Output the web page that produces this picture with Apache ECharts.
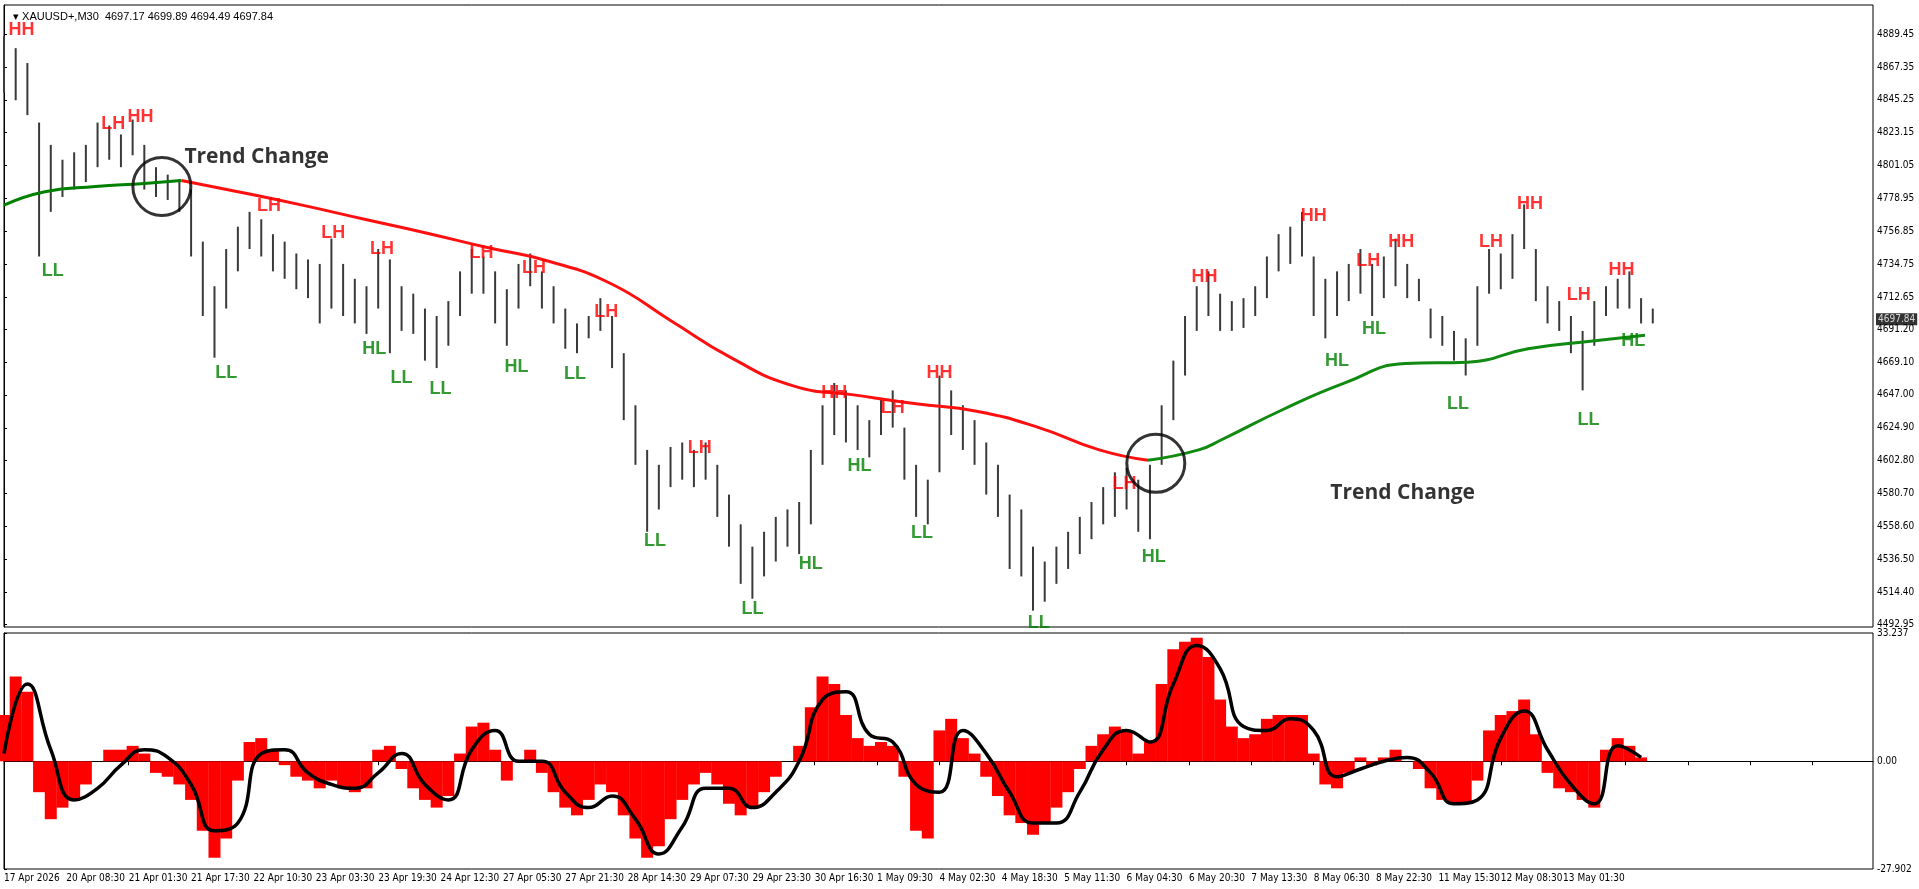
<!DOCTYPE html>
<html>
<head>
<meta charset="utf-8">
<script src="https://cdn.jsdelivr.net/npm/echarts@6/dist/echarts.min.js"></script>
<style>
html, body { margin: 0; padding: 0; background: #fff; }
#chart { width: 1919px; height: 889px; }
</style>
</head>
<body>
<div id="chart"></div>
<script>
// bars are sampled every 6 M30 bars, x unit = bar index (32 bars per time label)
var step = 6;
var highs = [4888,4880,4870,4830,4815,4805,4810,4815,4830,4828,4822,4832,4815,4800,4795,4792,4785,4750,4720,4745,
    4760,4770,4765,4755,4750,4742,4738,4735,4752,4735,4725,4720,4745,4738,4720,4715,4705,4700,4710,4730,
    4745,4740,4730,4718,4735,4742,4730,4720,4705,4695,4700,4712,4700,4675,4640,4610,4600,4612,4615,4610,
    4615,4600,4580,4560,4545,4555,4565,4570,4575,4610,4640,4655,4650,4640,4630,4645,4650,4625,4600,4590,
    4660,4650,4640,4630,4615,4600,4580,4570,4545,4535,4545,4555,4565,4575,4585,4595,4598,4590,4600,4640,
    4670,4700,4720,4730,4715,4710,4712,4720,4740,4755,4760,4770,4740,4725,4730,4735,4745,4735,4740,4752,
    4735,4725,4705,4700,4690,4685,4720,4745,4742,4755,4775,4745,4720,4710,4700,4690,4710,4720,4725,4730,
    4712,4705];
var lows = [4850,4845,4835,4740,4770,4780,4785,4790,4800,4805,4800,4808,4785,4780,4778,4770,4740,4700,4672,4705,
    4730,4745,4740,4730,4725,4718,4712,4695,4705,4700,4695,4688,4705,4675,4690,4688,4670,4665,4680,4700,
    4715,4715,4695,4680,4705,4720,4705,4695,4678,4675,4685,4690,4665,4630,4600,4555,4570,4585,4590,4585,
    4590,4565,4545,4520,4510,4525,4535,4545,4540,4560,4600,4620,4615,4610,4605,4620,4625,4590,4565,4560,
    4595,4620,4610,4600,4580,4565,4530,4525,4502,4508,4520,4530,4540,4550,4560,4565,4570,4555,4550,4600,
    4630,4660,4690,4700,4690,4690,4692,4700,4712,4730,4735,4740,4700,4685,4700,4710,4715,4700,4712,4720,
    4712,4710,4685,4680,4670,4660,4680,4715,4718,4725,4745,4710,4695,4690,4675,4650,4680,4700,4705,4705,
    4695,4695];

// moving average [bar index, price]
var maGreenA = [[0,4774.5],[21,4783.5],[47,4787],[72,4789],[91,4791]];
var maRed = [[91,4791],[122,4783],[153,4774.5],[185,4765],[216,4756],[248,4746],[279,4737],[311,4722],
    [342,4697],[373,4672],[405,4653],[436,4647],[468,4641],[499,4636],[531,4625],[562,4610],[587,4603]];
var maGreenB = [[587,4603],[613,4610],[625,4617],[656,4637],[688,4655],[719,4668],[751,4669],[782,4678],
    [814,4683],[842,4687]];

var swingX = [9,56,70,25,136,114,169,194,190,204,224,245,263,272,293,309,334,357,384,414,426,439,456,471,480,
    531,575,590,616,672,684,700,703,717,746,763,783,808,813,830,836];
var swingP = [4892,4829,4834,4730,4774,4662,4756,4745,4678,4658,4651,4742,4666,4732,4661,4703,4549,4611,4503,
    4533,4648,4599,4638,4554,4662,4494,4587,4538,4726,4767,4670,4737,4691,4750,4641,4750,4775,4714,4630,4731,4683];
var swingT = ['HH','LH','HH','LL','LH','LL','LH','LH','HL','LL','LL','LH','HL','LH','LL','LH','LL','LH','LL',
    'HL','HH','HL','LH','LL','HH','LL','LH','HL','HH','HH','HL','LH','HL','HH','LL','LH','HH','LH','LL','HH','HL'];

var histo = [12,22,18,-8,-15,-12,-10,-6,0,3,3,4,2,-3,-4,-6,-10,-18,-25,-20,
    -5,5,6,3,-1,-4,-5,-7,-5,-7,-8,-7,3,4,-2,-7,-10,-12,-9,2,
    9,10,3,-5,0,3,-3,-8,-12,-14,-10,-6,-8,-14,-20,-25,-22,-15,-10,-6,
    -3,-6,-11,-14,-12,-8,-4,0,4,14,22,20,12,6,4,5,4,-4,-18,-20,
    8,11,6,2,-4,-9,-14,-16,-19,-16,-12,-8,-2,4,7,9,8,2,5,20,
    29,31,32,27,16,9,6,7,11,12,12,12,2,-6,-7,-3,1,-1,1,3,
    0,-2,-7,-10,-11,-11,-5,8,12,13,16,7,-3,-7,-8,-10,-12,3,6,4,
    1,0];
var signal = [2,20,3,-10,-7,-1,3,1,-6,-18,-16,2,3,-3,-6,-7,-3,2,-6,-10,
    3,8,0,0,-8,-12,-9,-15,-24,-17,-7,-7,-12,-8,0,16,18,7,5,-6,
    -8,8,2,-8,-16,-16,-8,3,8,5,20,30,24,9,8,11,8,-4,-2,0,
    1,-3,-11,-10,6,13,3,-6,-11,4,1];

var timeLabels = ['17 Apr 2026','20 Apr 08:30','21 Apr 01:30','21 Apr 17:30','22 Apr 10:30','23 Apr 03:30',
    '23 Apr 19:30','24 Apr 12:30','27 Apr 05:30','27 Apr 21:30','28 Apr 14:30','29 Apr 07:30','29 Apr 23:30',
    '30 Apr 16:30','1 May 09:30','4 May 02:30','4 May 18:30','5 May 11:30','6 May 04:30','6 May 20:30',
    '7 May 13:30','8 May 06:30','8 May 22:30','11 May 15:30','12 May 08:30','13 May 01:30'];
var priceTicks = [4492.95,4514.40,4536.50,4558.60,4580.70,4602.80,4624.90,4647.00,4669.10,4691.20,4712.65,
    4734.75,4756.85,4778.95,4801.05,4823.15,4845.25,4867.35,4889.45];
var oscTicks = [-27.902, 0, 33.237];
var lastPrice = 4697.84;

var barData = [];
for (var i = 0; i < highs.length; i++) barData.push([i * step, highs[i], lows[i]]);
var histData = histo.map(function (v, i) { return [i * step, v]; });
var sigData = signal.map(function (v, i) { return [i * step * 2, v]; });
var swingData = swingX.map(function (x, i) {
    var isHigh = swingT[i].charAt(1) === 'H';
    return { value: [x, swingP[i], swingT[i]], label: { color: isHigh ? '#ff0000' : '#008000' } };
});

var font = 'DejaVu Sans Condensed, Liberation Sans';
var axisFont = { color: '#000', fontSize: 10, fontFamily: font };

var chart = echarts.init(document.getElementById('chart'));
var option = {
    animation: false,
    backgroundColor: '#fff',
    title: {
        text: '▾ XAUUSD+,M30  4697.17 4699.89 4694.49 4697.84',
        left: 8, top: 6,
        textStyle: { fontSize: 11, fontWeight: 'normal', color: '#000', fontFamily: 'Liberation Sans' }
    },
    grid: [
        { left: 4, right: 46, top: 5, height: 622, show: true, borderColor: '#000', borderWidth: 1 },
        { left: 4, right: 46, top: 633, bottom: 20, show: true, borderColor: '#000', borderWidth: 1 }
    ],
    xAxis: [
        { type: 'value', gridIndex: 0, min: 0, max: 959, interval: 32,
          axisLabel: { show: false }, axisTick: { show: false }, axisLine: { show: false }, splitLine: { show: false } },
        { type: 'value', gridIndex: 1, min: 0, max: 959, interval: 32, position: 'bottom',
          axisLine: { show: true, lineStyle: { color: '#000' } },
          axisTick: { show: true, length: 4, lineStyle: { color: '#000' } },
          splitLine: { show: false },
          axisLabel: Object.assign({ align: 'left', margin: 4, showMaxLabel: false, hideOverlap: false,
              formatter: function (v) { return timeLabels[Math.round(v / 32)] || ''; } }, axisFont) }
    ],
    yAxis: [
        { type: 'value', gridIndex: 0, position: 'right', min: 4491, max: 4909, splitLine: { show: false },
          axisLine: { show: true, lineStyle: { color: '#000' } },
          axisTick: { show: true, length: 3, inside: false, customValues: priceTicks, lineStyle: { color: '#000' } },
          axisLabel: Object.assign({ margin: 4, customValues: priceTicks,
              formatter: function (v) { return v.toFixed(2); } }, axisFont) },
        { type: 'value', gridIndex: 1, position: 'right', min: -27.902, max: 33.237, splitLine: { show: false },
          axisLine: { show: true, lineStyle: { color: '#000' } },
          axisTick: { show: true, length: 3, customValues: oscTicks, lineStyle: { color: '#000' } },
          axisLabel: Object.assign({ margin: 4, customValues: oscTicks,
              formatter: function (v) { return v === 0 ? '0.00' : String(v); } }, axisFont) }
    ],
    series: [
        {
            type: 'custom', xAxisIndex: 0, yAxisIndex: 0, data: barData, z: 2,
            renderItem: function (params, api) {
                var top = api.coord([api.value(0), api.value(1)]);
                var bot = api.coord([api.value(0), api.value(2)]);
                return { type: 'line', shape: { x1: top[0], y1: top[1], x2: bot[0], y2: bot[1] },
                    style: { stroke: '#3a3a3a', lineWidth: 2 } };
            }
        },
        { type: 'line', xAxisIndex: 0, yAxisIndex: 0, data: maGreenA, smooth: true, symbol: 'none',
          lineStyle: { color: '#008000', width: 3 }, z: 3 },
        { type: 'line', xAxisIndex: 0, yAxisIndex: 0, data: maRed, smooth: true, symbol: 'none',
          lineStyle: { color: '#ff1010', width: 3 }, z: 3 },
        { type: 'line', xAxisIndex: 0, yAxisIndex: 0, data: maGreenB, smooth: true, symbol: 'none',
          lineStyle: { color: '#108a10', width: 3 }, z: 3 },
        {
            type: 'scatter', xAxisIndex: 0, yAxisIndex: 0, data: swingData, symbolSize: 0, z: 5,
            label: { show: true, position: 'inside', fontSize: 18, fontWeight: 'bold', fontFamily: 'Liberation Sans',
                formatter: function (p) { return p.value[2]; } },
            itemStyle: { color: 'transparent' }
        },
        {
            type: 'scatter', xAxisIndex: 0, yAxisIndex: 0, z: 6, symbol: 'circle', symbolSize: 58,
            itemStyle: { color: 'rgba(0,0,0,0)', borderColor: '#000', borderWidth: 3 },
            data: [[81, 4787], [591, 4601]]
        },
        {
            type: 'scatter', xAxisIndex: 0, yAxisIndex: 0, z: 6, symbolSize: 0,
            label: { show: true, position: 'right', formatter: function (p) { return p.value[2]; },
                fontSize: 21, fontWeight: 'bold', color: '#000', fontFamily: 'Open Sans' },
            data: [[90, 4807, 'Trend Change'], [678, 4581, 'Trend Change']]
        },
        {
            // last price marker on the price scale
            type: 'scatter', xAxisIndex: 0, yAxisIndex: 0, z: 10, symbolSize: 0, clip: false,
            label: { show: true, position: 'right', distance: 3, formatter: lastPrice.toFixed(2),
                color: '#fff', backgroundColor: '#000', fontSize: 10, fontFamily: font, padding: [1, 2] },
            data: [[959, lastPrice]]
        },
        { type: 'bar', xAxisIndex: 1, yAxisIndex: 1, data: histData, barWidth: 12,
          itemStyle: { color: '#ff0000' }, z: 2 },
        { type: 'line', xAxisIndex: 1, yAxisIndex: 1, data: sigData, smooth: true, symbol: 'none',
          lineStyle: { color: '#000', width: 3.5 }, z: 3 }
    ]
};
chart.setOption(option);
</script>
</body>
</html>
